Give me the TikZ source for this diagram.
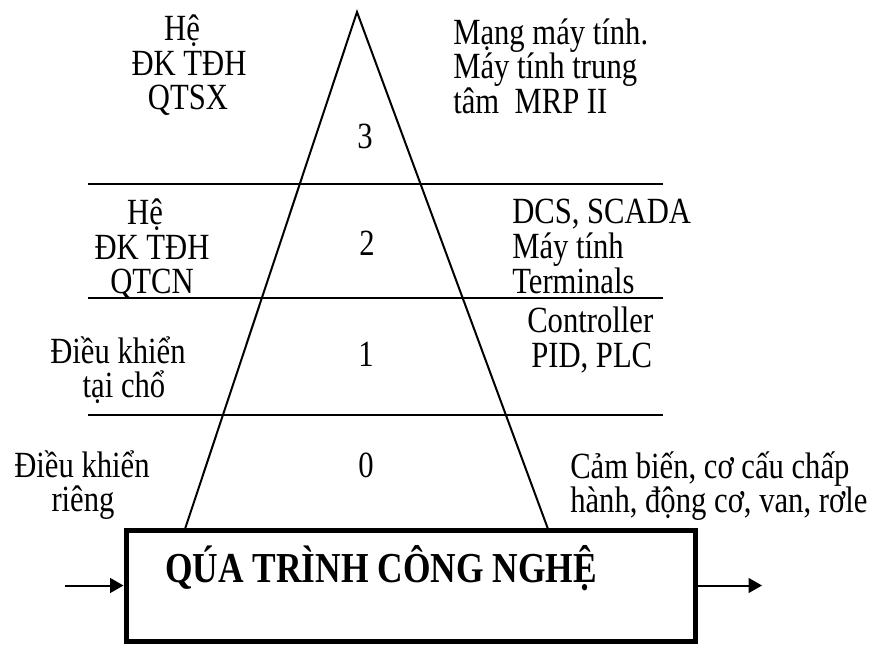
\documentclass[tikz,border=0pt]{standalone}
\usepackage{fontspec}
\setmainfont{Liberation Serif}[FakeStretch=0.83]
\usetikzlibrary{arrows.meta}
\begin{document}
\begin{tikzpicture}[x=0.75pt,y=-0.75pt,
  lbl/.style={inner sep=0pt, anchor=base, font=\fontsize{27.7}{31}\selectfont},
  lblw/.style={lbl, anchor=base west},
  title/.style={inner sep=0pt, anchor=base, font=\fontsize{32}{36}\selectfont\bfseries},
  leg/.style={line width=1.5pt, line join=miter},
  tier/.style={line width=1.5pt},
  procbox/.style={draw, line width=3.75pt, inner sep=0pt,
    minimum width=426.75pt, minimum height=83.25pt},
  flow/.style={line width=1.5pt, -{Triangle[length=10pt,width=11pt]}}]
\useasboundingbox (0,0) rectangle (877,646);

% pyramid
\coordinate (apex) at (357,12);
\coordinate (baseL) at (185,529);
\coordinate (baseR) at (548,529);
\draw[leg] (baseL) -- (apex) -- (baseR);

% level separators
\coordinate (s3w) at (88,184);  \coordinate (s3e) at (663,184);
\coordinate (s2w) at (88,298);  \coordinate (s2e) at (663,298);
\coordinate (s1w) at (88,415);  \coordinate (s1e) at (663,415);
\draw[tier] (s3w) -- (s3e);
\draw[tier] (s2w) -- (s2e);
\draw[tier] (s1w) -- (s1e);

% level numbers
\node[lbl] (n3) at (365,148) {3};
\node[lbl] (n2) at (367,255) {2};
\node[lbl] (n1) at (366,366) {1};
\node[lbl] (n0) at (366,477) {0};

% left column
\node[lbl] (l3a) at (182,40) {Hệ};
\node[lbl] (l3b) at (189,75) {ĐK TĐH};
\node[lbl] (l3c) at (188,109) {QTSX};
\node[lbl] (l2a) at (145,224) {Hệ};
\node[lbl] (l2b) at (152,259) {ĐK TĐH};
\node[lbl] (l2c) at (152,293) {QTCN};
\node[lbl] (l1a) at (118,363) {Điều khiển};
\node[lbl] (l1b) at (124,397) {tại chổ};
\node[lbl] (l0a) at (82,477) {Điều khiển};
\node[lbl] (l0b) at (83,511) {riêng};

% right column
\node[lblw] (r3a) at (453,44) {Mạng máy tính.};
\node[lblw] (r3b) at (453,78) {Máy tính trung};
\node[lblw] (r3c) at (453,113) {tâm\ \ MRP II};
\node[lblw] (r2a) at (512,223) {DCS, SCADA};
\node[lblw] (r2b) at (512,258) {Máy tính};
\node[lblw] (r2c) at (512,293) {Terminals};
\node[lblw] (r1a) at (527,332) {Controller};
\node[lblw] (r1b) at (531,367) {PID, PLC};
\node[lblw] (r0a) at (570,478) {Cảm biến, cơ cấu chấp};
\node[lblw] (r0b) at (570,512) {hành, động cơ, van, rơle};

% process block with input and output
\node[procbox] (proc) at (410.5,585.5) {};
\node[title] (proctitle) at (381,582) {QÚA TRÌNH CÔNG NGHỆ};
\coordinate (inp) at (65,585.5);
\coordinate (outp) at (762,585.5);
\draw[flow] (inp) -- (proc.west);
\draw[flow] (proc.east) -- (outp);
\end{tikzpicture}
\end{document}
